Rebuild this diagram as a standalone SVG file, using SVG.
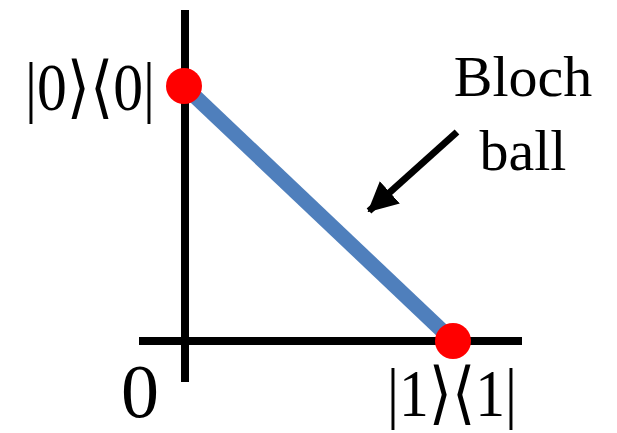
<svg xmlns="http://www.w3.org/2000/svg" width="617" height="433" viewBox="0 0 617 433">
<style>
.axis{stroke:#000;stroke-width:8;fill:none}
.seg{stroke:#4f7fbc;stroke-width:15;fill:none}
.pt{fill:#ff0000}
.lbl{font-family:"Liberation Serif","DejaVu Serif",serif;fill:#000}
.arr{stroke:#000;stroke-width:7;fill:none}
</style>
<defs>
<marker id="ah" markerUnits="userSpaceOnUse" viewBox="0 0 30 30" refX="28" refY="15" markerWidth="30" markerHeight="30" orient="auto">
<path d="M0,0 L30,15 L0,30 Z" fill="#000"/>
</marker>
</defs>
<g id="axes">
<line class="axis" x1="185" y1="10" x2="185" y2="382"/>
<line class="axis" x1="139" y1="341" x2="522" y2="341"/>
</g>
<g id="connectors">
<line class="seg" x1="184" y1="86" x2="453" y2="341"/>
<line class="arr" x1="457" y1="132" x2="369" y2="211" marker-end="url(#ah)"/>
</g>
<g id="state0">
<circle class="pt" cx="184" cy="86" r="18"/>
<text class="lbl" x="25" y="110" font-size="68" textLength="130" lengthAdjust="spacingAndGlyphs">|0⟩⟨0|</text>
</g>
<g id="state1">
<circle class="pt" cx="453" cy="341" r="18"/>
<text class="lbl" x="387" y="416" font-size="68" textLength="130" lengthAdjust="spacingAndGlyphs">|1⟩⟨1|</text>
</g>
<g id="origin">
<text class="lbl" x="140" y="417" font-size="76" text-anchor="middle">0</text>
</g>
<g id="bloch">
<text class="lbl" x="523" y="96" font-size="58" text-anchor="middle">Bloch</text>
<text class="lbl" x="523" y="170" font-size="58" text-anchor="middle">ball</text>
</g>
</svg>
